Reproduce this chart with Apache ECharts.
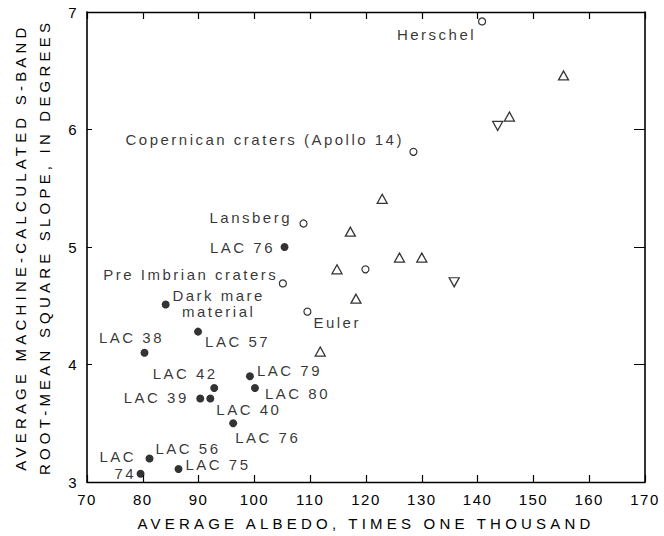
<!DOCTYPE html>
<html>
<head>
<meta charset="utf-8">
<script src="https://cdn.jsdelivr.net/npm/echarts@6/dist/echarts.min.js"></script>
<style>
  html, body { margin: 0; padding: 0; background: #fff; }
  #chart { width: 664px; height: 536px; }
  /* letter spacing by text role (font-family fallback tags the role) */
  #chart text[style*="sans-serif"] { letter-spacing: 2.5px; }
  #chart text[style*="Helvetica"] { letter-spacing: 1.5px; }
  #chart text[style*="Arial"] { letter-spacing: 4.2px; }
</style>
</head>
<body>
<div id="chart"></div>
<script>
// Lunar Atlas Chart regions (filled dots)
const lacNames = ['LAC 76', 'Dark mare\nmaterial', 'LAC 57', 'LAC 38', 'LAC 79', 'LAC 42', 'LAC 80',
                  'LAC 39', 'LAC 40', 'LAC 76', 'LAC 56', 'LAC 75', 'LAC\n74'];
const lacAlbedo = [105.4, 84.1, 89.9, 80.3, 99.2, 92.8, 100.1, 90.3, 92.1, 96.2, 81.2, 86.4, 79.6];
const lacSlope  = [5.00, 4.51, 4.28, 4.10, 3.90, 3.80, 3.80, 3.71, 3.71, 3.50, 3.20, 3.11, 3.07];

// Craters (open circles)
const craterNames  = ['Herschel', 'Copernican craters (Apollo 14)', 'Lansberg', '', 'Pre Imbrian craters', 'Euler'];
const craterAlbedo = [140.8, 128.5, 108.8, 119.9, 105.1, 109.5];
const craterSlope  = [6.92, 5.81, 5.20, 4.81, 4.69, 4.45];

// Upward triangles
const triUpAlbedo = [155.4, 145.7, 122.9, 117.2, 126.0, 130.0, 114.8, 118.2, 111.8];
const triUpSlope  = [6.46, 6.11, 5.41, 5.13, 4.91, 4.91, 4.81, 4.56, 4.11];

// Downward triangles
const triDownAlbedo = [143.6, 135.8];
const triDownSlope  = [6.03, 4.70];

// Axis ticks
const xTicks = { min: 70, max: 170, step: 10 };
const yTicks = { min: 3, max: 7, step: 1 };

// Label placement: [dx, dy, align, lineHeight] relative to the point centre
const lacLabelPlace = [
  [-9.5, 0, 'right', 15], [53, -1.5, 'center', 16], [7, 10, 'left', 15], [-13, -15, 'center', 15],
  [7, -6, 'left', 15], [3.5, -15, 'right', 15], [10, 5, 'left', 15], [-11.5, -1, 'right', 15],
  [6, 11, 'left', 15], [2, 14, 'left', 15], [6, -10, 'left', 15], [7, -5, 'left', 15],
  [-4.5, -8.5, 'right', 17]
];
const craterLabelPlace = [
  [-6, 13, 'right', 15], [-9.5, -12, 'right', 15], [-11.5, -6, 'right', 15], [0, 0, 'left', 15],
  [-4.5, -9, 'right', 15], [6, 11, 'left', 15]
];

const INK = '#000';
const LABEL_FONT = 'Liberation Sans, sans-serif';
const TICK_FONT = 'Liberation Sans, Helvetica';
const TITLE_FONT = 'Liberation Sans, Arial';

function labelled(names, xs, ys, place) {
  return names.map((n, i) => ({
    name: n,
    value: [xs[i], ys[i]],
    label: n ? {
      show: true,
      position: 'inside',
      formatter: '{b}',
      offset: [place[i][0], place[i][1]],
      align: place[i][2],
      verticalAlign: 'middle',
      color: INK,
      fontSize: 15,
      lineHeight: place[i][3],
      fontFamily: LABEL_FONT
    } : { show: false }
  }));
}
function pairs(xs, ys) { return xs.map((x, i) => [x, ys[i]]); }

const chart = echarts.init(document.getElementById('chart'), null, { renderer: 'svg' });

const commonX = {
  type: 'value', min: xTicks.min, max: xTicks.max, interval: xTicks.step,
  splitLine: { show: false },
  axisLine: { show: true, lineStyle: { color: INK, width: 1.4 } }
};
const commonY = {
  type: 'value', min: yTicks.min, max: yTicks.max, interval: yTicks.step,
  splitLine: { show: false },
  axisLine: { show: true, lineStyle: { color: INK, width: 1.6 } }
};

chart.setOption({
  animation: false,
  backgroundColor: '#fff',
  grid: { left: 83, right: 19, top: 12, bottom: 54, containLabel: false },
  xAxis: [
    Object.assign({}, commonX, {
      position: 'bottom',
      axisTick: { show: true, inside: true, length: 7, lineStyle: { color: INK, width: 1.2 } },
      axisLabel: { show: true, interval: 0, margin: 10, color: INK, fontSize: 15, fontFamily: TICK_FONT },
      name: 'AVERAGE ALBEDO, TIMES ONE THOUSAND',
      nameLocation: 'middle',
      nameGap: 34,
      nameTextStyle: { color: INK, fontSize: 15, fontFamily: TITLE_FONT }
    }),
    Object.assign({}, commonX, {
      position: 'top',
      axisTick: { show: true, inside: true, length: 7, lineStyle: { color: INK, width: 1.2 } },
      axisLabel: { show: false }
    })
  ],
  yAxis: [
    Object.assign({}, commonY, {
      position: 'left',
      axisTick: { show: true, inside: true, length: 5, lineStyle: { color: INK, width: 1 } },
      axisLabel: { show: true, margin: 9, color: INK, fontSize: 15, fontFamily: TICK_FONT },
      name: 'AVERAGE MACHINE-CALCULATED S-BAND\nROOT-MEAN SQUARE SLOPE, IN DEGREES',
      nameLocation: 'middle',
      nameGap: 31,
      nameTextStyle: { color: INK, fontSize: 15, lineHeight: 24, fontFamily: TITLE_FONT }
    }),
    Object.assign({}, commonY, {
      position: 'right',
      axisTick: { show: true, inside: true, length: 11, lineStyle: { color: INK, width: 1 } },
      axisLabel: { show: false }
    })
  ],
  series: [
    {
      name: 'LAC regions', type: 'scatter', xAxisIndex: 0, yAxisIndex: 0,
      symbol: 'circle', symbolSize: 8,
      itemStyle: { color: INK },
      data: labelled(lacNames, lacAlbedo, lacSlope, lacLabelPlace)
    },
    {
      name: 'Craters', type: 'scatter', xAxisIndex: 0, yAxisIndex: 0,
      symbol: 'circle', symbolSize: 7,
      itemStyle: { color: '#fff', borderColor: INK, borderWidth: 1.2 },
      data: labelled(craterNames, craterAlbedo, craterSlope, craterLabelPlace)
    },
    {
      name: 'Triangles up', type: 'scatter', xAxisIndex: 0, yAxisIndex: 0,
      symbol: 'triangle', symbolSize: [10, 9],
      itemStyle: { color: '#fff', borderColor: INK, borderWidth: 1.3 },
      data: pairs(triUpAlbedo, triUpSlope)
    },
    {
      name: 'Triangles down', type: 'scatter', xAxisIndex: 0, yAxisIndex: 0,
      symbol: 'triangle', symbolSize: [10, 9], symbolRotate: 180,
      itemStyle: { color: '#fff', borderColor: INK, borderWidth: 1.3 },
      data: pairs(triDownAlbedo, triDownSlope)
    }
  ]
});
</script>
</body>
</html>
